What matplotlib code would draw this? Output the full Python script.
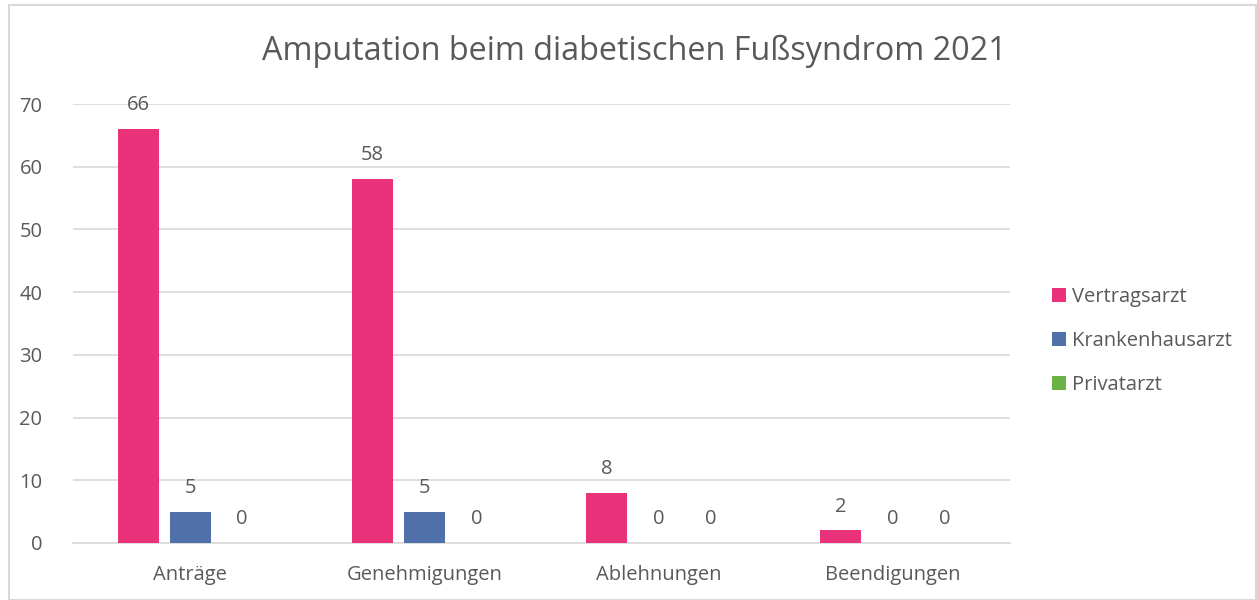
import matplotlib.pyplot as plt
import numpy as np
from matplotlib.patches import Rectangle

plt.rcParams['font.family'] = ['Open Sans', 'DejaVu Sans']

categories = ['Anträge', 'Genehmigungen', 'Ablehnungen', 'Beendigungen']
series_names = ['Vertragsarzt', 'Krankenhausarzt', 'Privatarzt']
vertragsarzt = [66, 58, 8, 2]
krankenhausarzt = [5, 5, 0, 0]
privatarzt = [0, 0, 0, 0]
colors = ['#E9327A', '#5070AA', '#6AB245']
yticks = [0, 10, 20, 30, 40, 50, 60, 70]

txt = '#595959'
fig = plt.figure(figsize=(12.57, 6), dpi=100)
fig.patches.append(Rectangle((9 / 1257, 0), 1 - 9 / 1257 - 0.001, 1 - 5 / 600,
                             transform=fig.transFigure, fill=False,
                             edgecolor='#D9D9D9', linewidth=1.5))
ax = fig.add_axes([73 / 1257, 57 / 600, (1010 - 73) / 1257, (543 - 104) / 600])

x = np.arange(len(categories))
width = 0.175
step = 0.222
for i, (name, vals) in enumerate(zip(series_names, [vertragsarzt, krankenhausarzt, privatarzt])):
    pos = x + (i - 1) * step
    ax.bar(pos, vals, width, color=colors[i], label=name, zorder=3)
    for p, v in zip(pos, vals):
        ax.text(p, v + 2.2, str(v), ha='center', va='bottom', fontsize=14.5, color=txt)

ax.set_xlim(-0.5, 3.5)
ax.set_ylim(0, 70)
ax.set_yticks(yticks)
ax.set_xticks(x)
ax.set_xticklabels(categories)
ax.grid(axis='y', color='#D9D9D9', linewidth=1.2, zorder=0)
for s in ['top', 'right', 'left']:
    ax.spines[s].set_visible(False)
ax.spines['bottom'].set_color('#D9D9D9')
ax.spines['bottom'].set_linewidth(1.2)
ax.tick_params(length=0, labelsize=14.5, colors=txt)
ax.tick_params(axis='x', pad=16)
ax.tick_params(axis='y', pad=22)

fig.text(0.505, 0.915, 'Amputation beim diabetischen Fußsyndrom 2021', ha='center', va='center',
         fontsize=23.3, color=txt)

leg = ax.legend(loc='center left', bbox_to_anchor=(1.025, 0.46), frameon=False, fontsize=14.5,
                handlelength=0.7, handleheight=0.7, handletextpad=0.3, labelspacing=1.2)
for t in leg.get_texts():
    t.set_color(txt)

fig.savefig('out.png', dpi=100)
